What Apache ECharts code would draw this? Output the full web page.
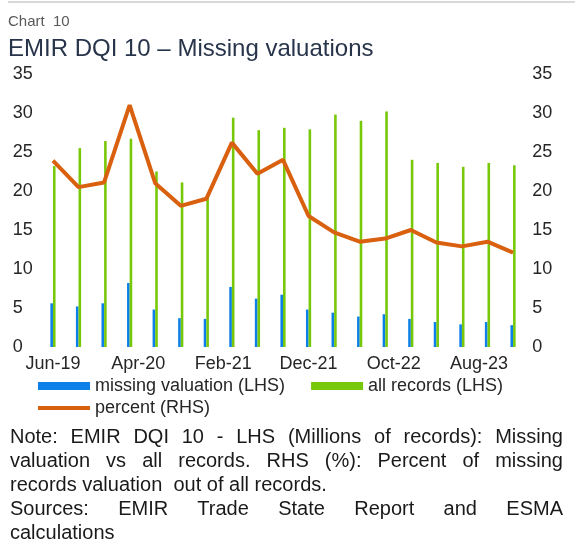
<!DOCTYPE html>
<html>
<head>
<meta charset="utf-8">
<script src="https://cdn.jsdelivr.net/npm/echarts@6.0.0/dist/echarts.min.js"></script>
<style>
  html, body { margin: 0; padding: 0; background: #fff; }
  #wrap { position: relative; width: 575px; height: 557px; }
  #chart { position: absolute; left: 0; top: 0; width: 575px; height: 557px; }
  #note { position: absolute; left: 10px; width: 553px; top: 424px;
          font-family: "Liberation Sans", Arial, sans-serif; font-size: 20px;
          line-height: 24px; color: #1a1a1a; }
  #note div { text-align: justify; text-align-last: justify; white-space: nowrap; }
  #note div.last { text-align-last: left; }
</style>
</head>
<body>
<div id="wrap">
  <div id="chart"></div>
  <div id="note">
    <div>Note: EMIR DQI 10 - LHS (Millions of records): Missing</div>
    <div>valuation vs all records. RHS (%): Percent of missing</div>
    <div class="last">records valuation&nbsp; out of all records.</div>
    <div>Sources: EMIR Trade State Report and ESMA</div>
    <div class="last">calculations</div>
  </div>
</div>
<script>
// quarterly observations, Jun-19 .. Dec-23
var quarters = ['Jun-19','Sep-19','Dec-19','Mar-20','Jun-20','Sep-20','Dec-20','Mar-21','Jun-21','Sep-21',
                'Dec-21','Mar-22','Jun-22','Sep-22','Dec-22','Mar-23','Jun-23','Sep-23','Dec-23'];
var missingValuation = [5.6, 5.2, 5.6, 8.2, 4.8, 3.7, 3.6, 7.7, 6.2, 6.7,
                        4.8, 4.4, 3.9, 4.2, 3.6, 3.2, 2.9, 3.2, 2.8];
var allRecords = [23.2, 25.5, 26.4, 26.7, 22.5, 21.1, 19.2, 29.4, 27.8, 28.1,
                  27.9, 29.8, 29.0, 30.2, 24.0, 23.6, 23.1, 23.6, 23.3];
var percentMissing = [23.9, 20.5, 21.1, 31.0, 21.0, 18.1, 19.0, 26.2, 22.2, 24.0,
                      16.8, 14.7, 13.5, 13.9, 15.0, 13.4, 12.9, 13.5, 12.1];

// monthly date axis (like Excel's date axis): labels every 10 months
var monthNames = ['Jan','Feb','Mar','Apr','May','Jun','Jul','Aug','Sep','Oct','Nov','Dec'];
var months = [];
for (var m = 5; m <= 5 + 54; m++) {
  var yy = 19 + Math.floor(m / 12);
  months.push(monthNames[m % 12] + '-' + yy);
}
function onMonths(vals) {
  var out = months.map(function () { return '-'; });
  quarters.forEach(function (q, i) { out[months.indexOf(q)] = vals[i]; });
  return out;
}

var font = '"Liberation Sans", Arial, sans-serif';
var chart = echarts.init(document.getElementById('chart'), null, { renderer: 'canvas' });
chart.setOption({
  animation: false,
  backgroundColor: '#fff',
  textStyle: { fontFamily: font },
  graphic: [
    { type: 'rect', shape: { x: 8, y: 1, width: 567, height: 2 }, style: { fill: '#d9d9d9' } }
  ],
  title: [
    { text: 'Chart  10', left: 3, top: 9,
      textStyle: { fontSize: 15, fontWeight: 'normal', color: '#595959', fontFamily: font } },
    { text: 'EMIR DQI 10 – Missing valuations', left: 3, top: 32,
      textStyle: { fontSize: 24, fontWeight: 'normal', color: '#27344a', fontFamily: font } }
  ],
  legend: [
    { data: ['missing valuation (LHS)', 'all records (LHS)'], left: 33, top: 372,
      itemWidth: 52, itemHeight: 8, itemGap: 26, icon: 'rect',
      textStyle: { fontSize: 18, color: '#262626', fontFamily: font } },
    { data: ['percent (RHS)'], left: 33, top: 394,
      itemWidth: 52, itemHeight: 4, icon: 'rect',
      textStyle: { fontSize: 18, color: '#262626', fontFamily: font } }
  ],
  grid: { left: 48.7, right: 57.7, top: 74, bottom: 557 - 347, containLabel: false },
  xAxis: {
    type: 'category',
    data: months,
    axisLine: { show: false },
    axisTick: { show: false },
    axisLabel: { interval: 9, fontSize: 18, color: '#262626', margin: 8, fontFamily: font }
  },
  yAxis: [
    { type: 'value', min: 0, max: 35, interval: 5, splitLine: { show: false },
      axisLabel: { fontSize: 18, color: '#262626', align: 'left', margin: 36, fontFamily: font } },
    { type: 'value', min: 0, max: 35, interval: 5, position: 'right', splitLine: { show: false },
      axisLabel: { fontSize: 18, color: '#262626', align: 'left', margin: 15, fontFamily: font } }
  ],
  series: [
    { name: 'missing valuation (LHS)', type: 'bar', yAxisIndex: 0, data: onMonths(missingValuation),
      barWidth: 2.6, barGap: '0%', itemStyle: { color: '#0c7fe9' } },
    { name: 'all records (LHS)', type: 'bar', yAxisIndex: 0, data: onMonths(allRecords),
      barWidth: 2.6, barGap: '0%', itemStyle: { color: '#78c80a' } },
    { name: 'percent (RHS)', type: 'line', yAxisIndex: 1, data: onMonths(percentMissing),
      connectNulls: true, symbol: 'none', itemStyle: { color: '#d9600e' },
      lineStyle: { color: '#d9600e', width: 4 } }
  ]
});
</script>
</body>
</html>
